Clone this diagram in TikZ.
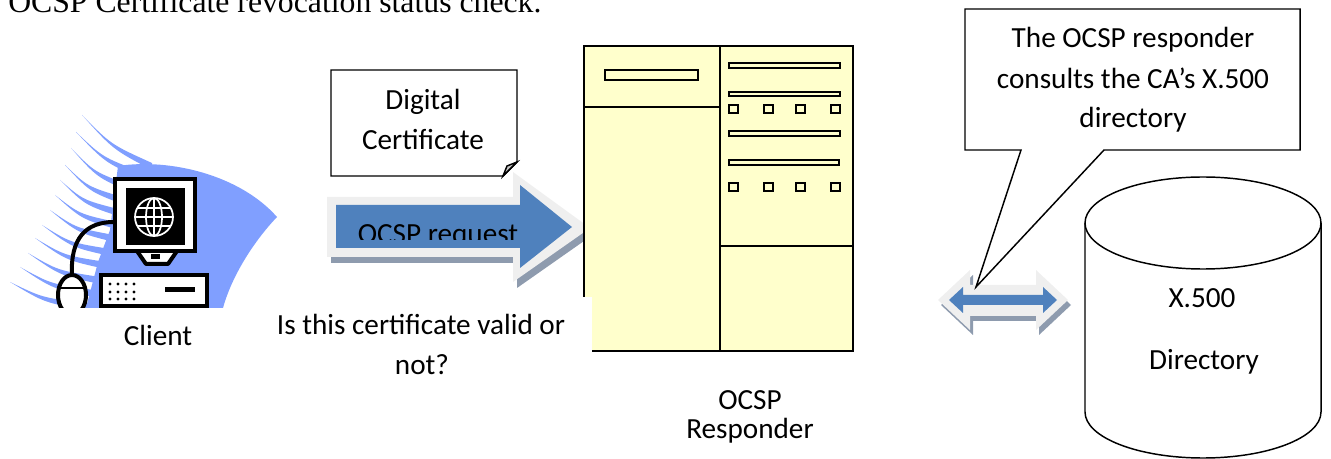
\documentclass[tikz,border=0pt]{standalone}
\usepackage{fontspec}
\setmainfont{Carlito}
\newfontfamily\titlefont{Liberation Serif}
\definecolor{swoosh}{HTML}{809FFF}
\definecolor{arrowblue}{HTML}{4F81BD}
\definecolor{glow}{HTML}{EFEFEF}
\definecolor{drop}{HTML}{8E9BAE}
\definecolor{cream}{HTML}{FFFFCC}
\definecolor{foldgrey}{HTML}{C8C8C8}
\tikzset{
  lbl/.style={font=\fontsize{21.9}{30}\selectfont, inner sep=0pt, anchor=base},
  thinline/.style={draw=black, line width=1.1pt},
  panel/.style={draw=black, line width=1.3pt, fill=cream},
  slotbar/.style={draw=black, line width=1.1pt, fill=cream},
  clipart/.style={draw=black, line width=3pt, fill=white},
}
\begin{document}
\begin{tikzpicture}[x=0.75pt, y=-0.75pt]
\useasboundingbox (0,0) rectangle (1331,459);
\clip (0,0) rectangle (1331,459);

% heading, running off the top edge
\node[font=\titlefont\fontsize{23.8}{28}\selectfont, inner sep=0pt, anchor=base west] (title) at (8,13) {OCSP Certificate revocation status check.};

% ---------------- client workstation ----------------
\begin{scope}
  \clip (0,100) rectangle (300,308);
  \fill[swoosh] (118,166) .. controls (170,158) and (240,175) .. (277,217)
     .. controls (255,240) and (232,275) .. (223,308) -- (86,308) -- (98,262) -- (110,230) -- cycle;
  % tapering feathers that fan out to the left
  \foreach \sx/\sy/\ex/\ey in {82/115/152/166, 76/132/142/175, 71/148/130/188, 65/165/122/200,
      60/180/118/212, 55/195/116/225, 50/210/114/238, 42/225/110/252, 35/238/106/265,
      28/253/100/280, 20/267/94/293, 10/282/88/306}
    \fill[swoosh] (\sx,\sy) .. controls ({(\sx+\ex)/2-6},{(\sy+\ey)/2+4}) .. (\ex,{\ey-3})
       -- (\ex,{\ey+4}) .. controls ({(\sx+\ex)/2-4},{(\sy+\ey)/2+9}) .. (\sx,\sy) -- cycle;
  % cable and mouse
  \draw[black, line width=3pt] (72,276) .. controls (70,238) and (86,222) .. (114,222);
  \draw[clipart] (72,295) ellipse [x radius=14, y radius=20];
  \draw[black, line width=2pt] (59,288) -- (85,288);
  % monitor
  \draw[clipart, line join=round] (137,251) -- (146,264) -- (168,264) -- (177,251);
  \fill[black] (151,254) rectangle (160,259);
  \draw[clipart] (115,179) rectangle (195,251);
  \fill[black] (126,188) rectangle (185,245);
  \begin{scope}[white, line width=1.3pt]
    \draw (154,217) circle [radius=19];
    \draw (154,217) ellipse [x radius=8, y radius=19];
    \draw (154,198) -- (154,236);
    \draw (135,217) -- (173,217);
    \draw (138,208) -- (170,208);
    \draw (138,226) -- (170,226);
  \end{scope}
  % system unit
  \draw[clipart] (101,275) rectangle (207,306);
  \foreach \dx in {110,118,126,134}
    \foreach \dy in {284,292,299}
      \fill[black] (\dx,\dy) circle [radius=1.7];
  \fill[black] (165,287) rectangle (195,292);
\end{scope}
\node[lbl] (client) at (158,346) {Client};

% ---------------- certificate note ----------------
\draw[thinline, fill=white] (331,70) -- (517,70) -- (517,162) -- (503,176) -- (331,176) -- cycle;
\filldraw[thinline, fill=foldgrey] (503,176) -- (507,166) -- (517,162) -- cycle;
\node[lbl] (cert1) at (423,110) {Digital};
\node[lbl] (cert2) at (423,150) {Certificate};

% ---------------- request arrow ----------------
\fill[drop, shift={(4,6)}] (327,197) -- (513,197) -- (513,172) -- (590,228) -- (513,282) -- (513,257) -- (327,257) -- cycle;
\fill[glow] (327,197) -- (513,197) -- (513,172) -- (590,228) -- (513,282) -- (513,257) -- (327,257) -- cycle;
\fill[arrowblue] (336,205) -- (520,205) -- (520,185) -- (572,227) -- (520,268) -- (520,248) -- (336,248) -- cycle;
\begin{scope}
  \clip (336,200) rectangle (560,240);
  \node[lbl] (req) at (438,244) {OCSP request};
\end{scope}

% ---------------- responder ----------------
\draw[panel] (584,46) rectangle (853,351);
\draw[black, line width=1.3pt] (720,46) -- (720,351);
\draw[black, line width=1.3pt] (584,107) -- (720,107);
\draw[black, line width=1.3pt] (720,246) -- (853,246);
\draw[slotbar] (605,70) rectangle (698,80);
\draw[slotbar] (729,63) rectangle (840,68);
\draw[slotbar] (729,92) rectangle (840,96);
\draw[slotbar] (729,131) rectangle (840,136);
\draw[slotbar] (729,160) rectangle (839,165);
\foreach \qx in {729,764,796,831} {
  \draw[slotbar] (\qx,105) rectangle ++(9,8);
  \draw[slotbar] (\qx,183) rectangle ++(9,8);
}
\node[lbl] (resp1) at (750,409) {OCSP};
\node[lbl] (resp2) at (750,438) {Responder};

% question box
\fill[white] (268,297) rectangle (592,385);
\node[lbl] (q1) at (421,335) {Is this certificate valid or};
\node[lbl] (q2) at (422,375) {not?};

% ---------------- lookup arrow ----------------
\fill[drop, shift={(3,5)}] (938,300) -- (970,270) -- (970,285) -- (1036,285) -- (1036,270) -- (1068,300)
   -- (1036,330) -- (1036,316) -- (970,316) -- (970,330) -- cycle;
\fill[glow] (938,300) -- (970,270) -- (970,285) -- (1036,285) -- (1036,270) -- (1068,300)
   -- (1036,330) -- (1036,316) -- (970,316) -- (970,330) -- cycle;
\fill[arrowblue] (949,300) -- (963,287) -- (963,295) -- (1043,295) -- (1043,287) -- (1057,300)
   -- (1043,313) -- (1043,305) -- (963,305) -- (963,313) -- cycle;

% ---------------- callout ----------------
\draw[thinline, fill=white] (965,9) -- (1300,9) -- (1300,150) -- (1104,150) -- (976,287) -- (1021,150) -- (965,150) -- cycle;
\node[lbl] (note1) at (1133,48) {The OCSP responder};
\node[lbl] (note2) at (1133,89) {consults the CA’s X.500};
\node[lbl] (note3) at (1133,128) {directory};

% ---------------- directory store ----------------
\draw[thinline, fill=white] (1085,223) -- (1085,412)
   .. controls (1085,437.4) and (1137.8,458) .. (1203,458)
   .. controls (1268.2,458) and (1321,437.4) .. (1321,412) -- (1321,223);
\draw[thinline] (1203,223) ellipse [x radius=118, y radius=46];
\node[lbl] (dir1) at (1202,308) {X.500};
\node[lbl] (dir2) at (1204,370) {Directory};
\end{tikzpicture}
\end{document}
